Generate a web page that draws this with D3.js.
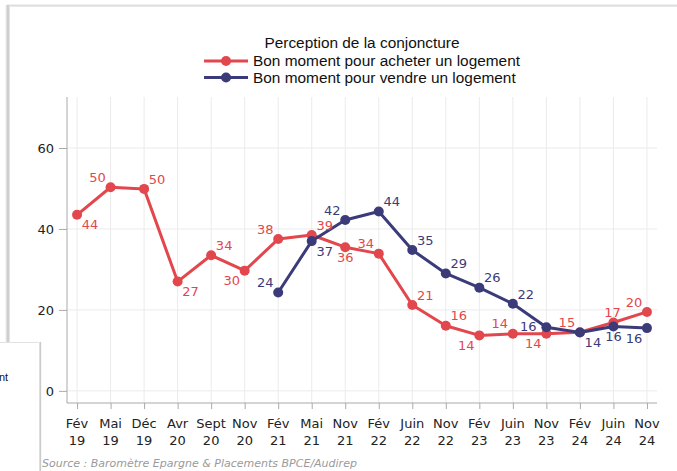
<!DOCTYPE html>
<html>
<head>
<meta charset="utf-8">
<script src="https://cdn.jsdelivr.net/npm/d3@7"></script>
<style>
  html, body { margin: 0; padding: 0; background: #fff; }
  svg { display: block; }
</style>
</head>
<body>
<div id="chart"></div>
<script>
// ############################################################################
// Data
// ############################################################################

const months = ['Fév', 'Mai', 'Déc', 'Avr', 'Sept', 'Nov', 'Fév', 'Mai', 'Nov',
                'Fév', 'Juin', 'Nov', 'Fév', 'Juin', 'Nov', 'Fév', 'Juin', 'Nov']
const years  = ['19', '19', '19', '20', '20', '20', '21', '21', '21',
                '22', '22', '22', '23', '23', '23', '24', '24', '24']

// Bon moment pour acheter un logement
const buyValues  = [43.5, 50.3, 49.9, 27.0, 33.5, 29.7, 37.5, 38.5, 35.5,
                    33.9, 21.2, 16.1, 13.7, 14.1, 14.1, 14.5, 16.9, 19.5]
// Bon moment pour vendre un logement (starts in Feb 21)
const sellValues = [null, null, null, null, null, null, 24.3, 37.0, 42.2,
                    44.3, 34.8, 29.0, 25.5, 21.5, 15.7, 14.4, 15.9, 15.5]

const yTicks = [0, 20, 40, 60]

const legendTitle = 'Perception de la conjoncture'
const seriesNames = ['Bon moment pour acheter un logement',
                     'Bon moment pour vendre un logement']
const sourceText  = 'Source : Baromètre Epargne & Placements BPCE/Audirep'

// where each value label sits around its point
const buyLabelPos  = ['dr', 'ul', 'ur', 'dr', 'ur', 'dl', 'ul', 'ur', 'd',
                      'ul', 'ur', 'ur', 'dl', 'ul', 'dl', 'ul', 'u', 'ul']
const sellLabelPos = [null, null, null, null, null, null, 'ul', 'dr', 'ul',
                      'ur', 'ur', 'ur', 'ur', 'ur', 'l', 'dr', 'd', 'dl']

// ############################################################################
// Setup
// ############################################################################

const width  = 677
const height = 471

const red  = '#e2474d'
const blue = '#3b3b79'
const tickFont   = 'DejaVu Sans, Verdana, sans-serif'
const legendFont = 'Liberation Sans, Arial, sans-serif'

const plot = { left: 67, right: 657, top: 97, bottom: 403 }

const svg = d3.select('#chart').append('svg')
  .attr('width', width)
  .attr('height', height)
  .style('background-color', '#fff')

const keys = months.map((m, i) => i)

const x = d3.scalePoint()
  .domain(keys)
  .range([plot.left, plot.right])
  .padding(0.3)

const y = d3.scaleLinear()
  .domain([-3, 72.6])
  .range([plot.bottom, plot.top])

// ============================================================================
// Grid
// ============================================================================

svg.append('g')
  .selectAll('line')
  .data(keys)
  .join('line')
    .attr('x1', d => x(d)).attr('x2', d => x(d))
    .attr('y1', plot.top).attr('y2', plot.bottom)
    .attr('stroke', '#ebebeb')
    .attr('stroke-width', 1)

svg.append('g')
  .selectAll('line')
  .data(yTicks)
  .join('line')
    .attr('x1', plot.left).attr('x2', plot.right)
    .attr('y1', d => y(d)).attr('y2', d => y(d))
    .attr('stroke', '#ebebeb')
    .attr('stroke-width', 1)

// ============================================================================
// Axes
// ============================================================================

const yAxis = svg.append('g')
  .attr('transform', `translate(${plot.left},0)`)
  .call(d3.axisLeft(y).tickValues(yTicks).tickSize(8).tickPadding(5))
yAxis.select('.domain').remove()
yAxis.append('line')
  .attr('y1', plot.top).attr('y2', plot.bottom)
  .attr('stroke', '#a9a9a9')

const xAxis = svg.append('g')
  .attr('transform', `translate(0,${plot.bottom})`)
  .call(d3.axisBottom(x).tickSize(6).tickFormat(''))
xAxis.select('.domain').remove()
xAxis.append('line')
  .attr('x1', plot.left).attr('x2', plot.right)
  .attr('stroke', '#a9a9a9')

for (let axis of [xAxis, yAxis])
{
  axis.selectAll('.tick line').attr('stroke', '#a9a9a9')
  axis.selectAll('text')
    .attr('fill', '#222')
    .style('font-family', tickFont)
    .style('font-size', '13px')
}

// two line category labels
const catLabels = svg.append('g')
  .selectAll('text')
  .data(keys)
  .join('text')
    .attr('text-anchor', 'middle')
    .attr('fill', '#222')
    .style('font-family', tickFont)
    .style('font-size', '13px')
catLabels.append('tspan')
  .attr('x', d => x(d)).attr('y', 428)
  .text(d => months[d])
catLabels.append('tspan')
  .attr('x', d => x(d)).attr('y', 445)
  .text(d => years[d])

// ============================================================================
// Series
// ============================================================================

const labelOffsets = {
  ur: [13, -10], ul: [-13, -10], dr: [13, 10], dl: [-13, 10],
  u: [-1, -10], d: [0, 10], l: [-18, -1]
}

function drawSeries(values, color)
{
  const pts = keys.filter(i => values[i] != null)

  const line = d3.line()
    .x(i => x(i))
    .y(i => y(values[i]))

  const g = svg.append('g')

  g.append('path')
    .datum(pts)
    .attr('d', line)
    .attr('fill', 'none')
    .attr('stroke', color)
    .attr('stroke-width', 3)
    .attr('stroke-linejoin', 'round')

  g.selectAll('circle')
    .data(pts)
    .join('circle')
      .attr('cx', i => x(i))
      .attr('cy', i => y(values[i]))
      .attr('r', 5)
      .attr('fill', color)
}

function drawLabels(values, positions, color)
{
  const pts = keys.filter(i => values[i] != null)
  svg.append('g')
    .selectAll('text')
    .data(pts)
    .join('text')
      .attr('x', i => x(i) + labelOffsets[positions[i]][0])
      .attr('y', i => y(values[i]) + labelOffsets[positions[i]][1])
      .attr('dy', '0.36em')
      .attr('text-anchor', 'middle')
      .attr('fill', color)
      .style('font-family', tickFont)
      .style('font-size', '13px')
      .text(i => Math.round(values[i]))
}

drawSeries(buyValues, red)
drawSeries(sellValues, blue)
drawLabels(buyValues, buyLabelPos, red)
drawLabels(sellValues, sellLabelPos, blue)

// ============================================================================
// Legend (centered over the plot area)
// ============================================================================

const legendCenter = (plot.left + plot.right) / 2

svg.append('text')
  .attr('x', legendCenter)
  .attr('y', 48)
  .attr('text-anchor', 'middle')
  .attr('fill', '#111')
  .style('font-family', legendFont)
  .style('font-size', '15.4px')
  .text(legendTitle)

const legend = svg.append('g')
const entries = legend.selectAll('g')
  .data(seriesNames)
  .join('g')
    .attr('transform', (d, i) => `translate(0,${61 + i * 16.5})`)

entries.append('line')
  .attr('x1', 0).attr('x2', 44)
  .attr('stroke', (d, i) => i == 0 ? red : blue)
  .attr('stroke-width', 3)
entries.append('circle')
  .attr('cx', 22)
  .attr('r', 5)
  .attr('fill', (d, i) => i == 0 ? red : blue)
entries.append('text')
  .attr('x', 49)
  .attr('dy', '0.35em')
  .attr('fill', '#111')
  .style('font-family', legendFont)
  .style('font-size', '15.4px')
  .text(d => d)

let legendW = 0
entries.selectAll('text').each(function() {
  legendW = Math.max(legendW, 49 + this.getComputedTextLength())
})
legend.attr('transform', `translate(${legendCenter - legendW / 2},0)`)

// ============================================================================
// Source
// ============================================================================

svg.append('text')
  .attr('x', 42)
  .attr('y', 467)
  .attr('fill', '#9a9a9a')
  .style('font-family', tickFont)
  .style('font-style', 'italic')
  .style('font-size', '11px')
  .text(sourceText)

// ============================================================================
// Window frame from the screenshot
// ============================================================================

const defs = svg.append('defs')
const shadowL = defs.append('linearGradient').attr('id', 'shadowL')
shadowL.append('stop').attr('offset', '0%').attr('stop-color', '#fff')
shadowL.append('stop').attr('offset', '60%').attr('stop-color', '#c4c4c4')
shadowL.append('stop').attr('offset', '100%').attr('stop-color', '#efefef')
const shadowT = defs.append('linearGradient').attr('id', 'shadowT')
  .attr('x1', 0).attr('x2', 0).attr('y1', 0).attr('y2', 1)
shadowT.append('stop').attr('offset', '0%').attr('stop-color', '#fafafa')
shadowT.append('stop').attr('offset', '60%').attr('stop-color', '#d9d9d9')
shadowT.append('stop').attr('offset', '100%').attr('stop-color', '#f4f4f4')

svg.append('rect')
  .attr('x', 7).attr('y', 4).attr('width', width - 7).attr('height', 3)
  .attr('fill', 'url(#shadowT)')
svg.append('rect')
  .attr('x', 5).attr('y', 5).attr('width', 5).attr('height', 338)
  .attr('fill', 'url(#shadowL)')

// overlapping window at the bottom left
svg.append('rect')
  .attr('x', 0).attr('y', 342).attr('width', 40).attr('height', 130)
  .attr('fill', '#fff')
svg.append('line')
  .attr('x1', 0).attr('x2', 40).attr('y1', 342.5).attr('y2', 342.5)
  .attr('stroke', '#e2e2e2')
svg.append('rect')
  .attr('x', 38.5).attr('y', 342).attr('width', 3).attr('height', 130)
  .attr('fill', 'url(#shadowL)')
svg.append('text')
  .attr('x', -1).attr('y', 381)
  .attr('fill', '#111')
  .style('font-family', legendFont)
  .style('font-size', '11px')
  .text('nt')
</script>
</body>
</html>
